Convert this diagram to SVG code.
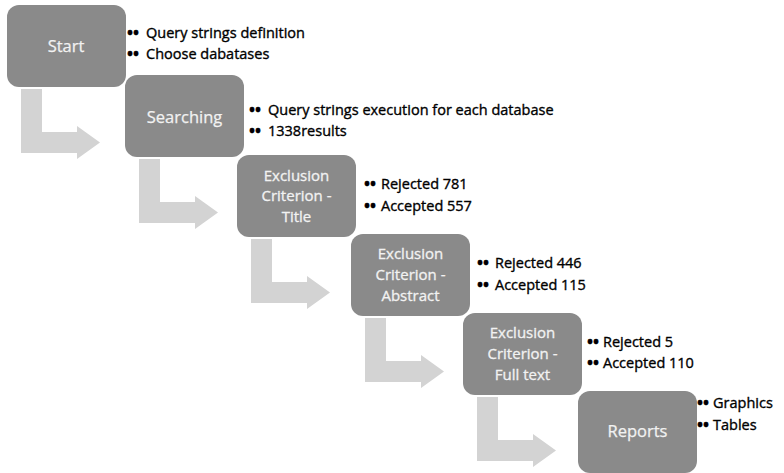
<svg xmlns="http://www.w3.org/2000/svg" width="784" height="473" viewBox="0 0 784 473">
<style>
.box{fill:#8a8a8a;}
.lbl{font-family:"Open Sans","Liberation Sans",sans-serif;font-size:16.5px;fill:#f2f2f2;stroke:#f2f2f2;stroke-width:0.25;text-anchor:middle;}
.ml{font-size:15px;stroke-width:0.3;}
.bul{font-family:"Open Sans","Liberation Sans",sans-serif;font-size:14.5px;fill:#000;stroke:#000;stroke-width:0.35;}
.dot{font-size:16px;font-weight:bold;}
.arr{fill:#d3d3d3;}
</style>
<defs>
<path id="bent" d="M14 84 L35 84 L35 127 L70 127 L70 121 L93 137.5 L70 154 L70 148 L14 148 Z"/>
</defs>
<rect width="784" height="473" fill="#ffffff"/>
<g id="connectors" class="arr">
<use href="#bent" x="7" y="5"/>
<use href="#bent" x="125" y="75"/>
<use href="#bent" x="237" y="155"/>
<use href="#bent" x="351" y="234"/>
<use href="#bent" x="463" y="313"/>
</g>
<g id="start">
<rect class="box" x="7" y="5" width="119" height="82" rx="12"/>
<text class="lbl" x="66" y="52">Start</text>
<text class="bul" y="38"><tspan class="dot" x="127">••</tspan><tspan x="146">Query strings definition</tspan></text>
<text class="bul" y="59"><tspan class="dot" x="127">••</tspan><tspan x="146">Choose dabatases</tspan></text>
</g>
<g id="searching">
<rect class="box" x="125" y="75" width="119" height="82" rx="12"/>
<text class="lbl" x="184.5" y="123">Searching</text>
<text class="bul" y="115"><tspan class="dot" x="249">••</tspan><tspan x="268">Query strings execution for each database</tspan></text>
<text class="bul" y="136"><tspan class="dot" x="249">••</tspan><tspan x="268">1338results</tspan></text>
</g>
<g id="title">
<rect class="box" x="237" y="155" width="119" height="82" rx="12"/>
<text class="lbl ml"><tspan x="296.5" y="180.5">Exclusion</tspan><tspan x="296.5" y="201.2">Criterion -</tspan><tspan x="296.5" y="222">Title</tspan></text>
<text class="bul" y="189"><tspan class="dot" x="364">••</tspan><tspan x="381">Rejected 781</tspan></text>
<text class="bul" y="211"><tspan class="dot" x="364">••</tspan><tspan x="381">Accepted 557</tspan></text>
</g>
<g id="abstract">
<rect class="box" x="351" y="234" width="119" height="82" rx="12"/>
<text class="lbl ml"><tspan x="410.5" y="259">Exclusion</tspan><tspan x="410.5" y="279.7">Criterion -</tspan><tspan x="410.5" y="300.5">Abstract</tspan></text>
<text class="bul" y="268"><tspan class="dot" x="477">••</tspan><tspan x="495">Rejected 446</tspan></text>
<text class="bul" y="290"><tspan class="dot" x="477">••</tspan><tspan x="495">Accepted 115</tspan></text>
</g>
<g id="fulltext">
<rect class="box" x="463" y="313" width="119" height="82" rx="12"/>
<text class="lbl ml"><tspan x="522.5" y="338">Exclusion</tspan><tspan x="522.5" y="358.7">Criterion -</tspan><tspan x="522.5" y="379.5">Full text</tspan></text>
<text class="bul" y="347"><tspan class="dot" x="587">••</tspan><tspan x="603">Rejected 5</tspan></text>
<text class="bul" y="368"><tspan class="dot" x="587">••</tspan><tspan x="603">Accepted 110</tspan></text>
</g>
<g id="reports">
<rect class="box" x="578" y="391" width="119" height="82" rx="12"/>
<text class="lbl" x="637.5" y="437">Reports</text>
<text class="bul" y="408"><tspan class="dot" x="697">••</tspan><tspan x="713">Graphics</tspan></text>
<text class="bul" y="430"><tspan class="dot" x="697">••</tspan><tspan x="713">Tables</tspan></text>
</g>
</svg>
